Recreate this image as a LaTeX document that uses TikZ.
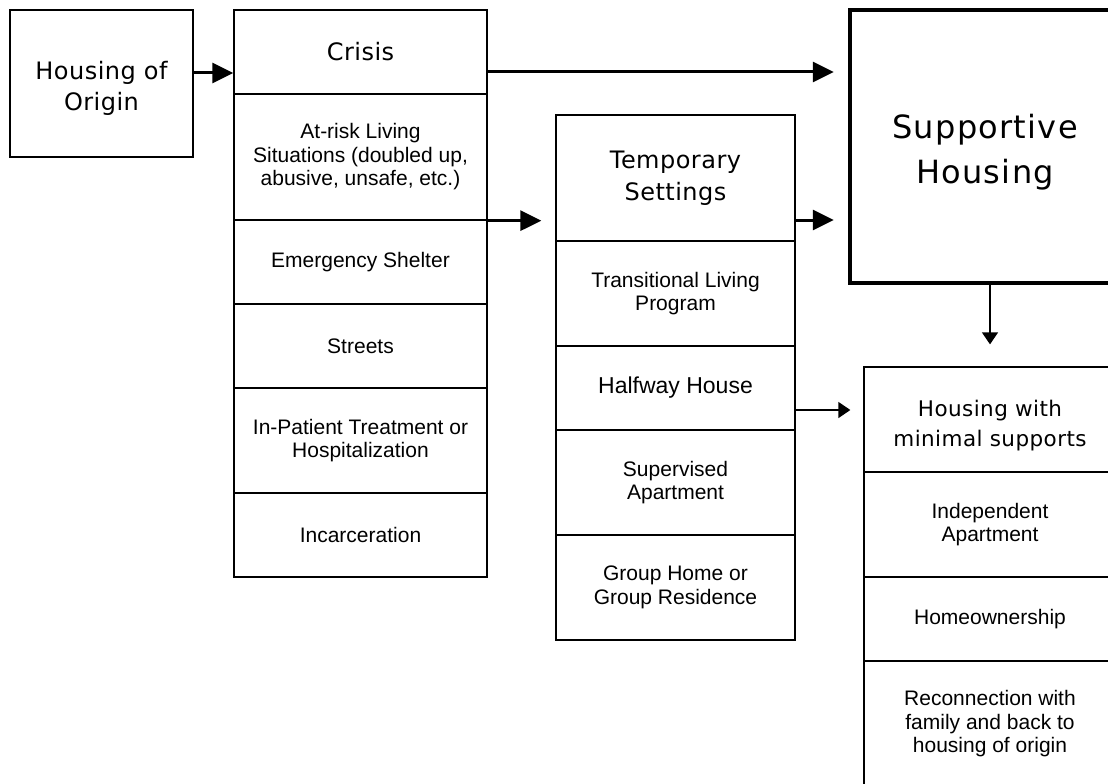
\documentclass[tikz,border=0pt]{standalone}
\usepackage{fontspec}
\setmainfont{Liberation Sans}
\newfontfamily\headfont[LetterSpace=2]{DejaVu Sans}
\newfontfamily\bigheadfont[LetterSpace=4]{DejaVu Sans}
\usetikzlibrary{arrows.meta}
\newcommand{\twolines}[3]{\raisebox{#1}[0pt][0pt]{\begin{tabular}[t]{@{}c@{}}#2\\#3\end{tabular}}}
\begin{document}
\begin{tikzpicture}[x=1pt,y=-1pt,
  cell/.style={draw, line width=1.3pt, inner sep=0pt, align=center, font=\fontsize{21}{23.5}\selectfont},
  head/.style={font=\headfont\fontsize{24}{31.5}\selectfont},
  bigarrow/.style={line width=3pt, -{Triangle[length=21pt,width=20pt]}},
  smallarrow/.style={line width=1.5pt, -{Triangle[length=12pt,width=16pt]}},
  crisiscol/.style={cell, minimum width=253pt},
  tempcol/.style={cell, minimum width=239pt},
  rightcol/.style={cell, minimum width=252pt}]
\useasboundingbox (0,0) rectangle (1108,784);
\clip (0,0) rectangle (1108,784);
\fill[white] (0,0) rectangle (1108,784);

% Housing of origin
\node[cell, head, minimum width=183pt, minimum height=147pt] (home) at (101.5,83.5) {\twolines{4.5pt}{Housing of}{Origin}};

% Crisis column
\node[crisiscol, head, minimum height=84pt] (crisis) at (360.5,52) {Crisis};
\node[crisiscol, minimum height=126pt] (atrisk) at (360.5,157) {At-risk Living\\Situations (doubled up,\\abusive, unsafe, etc.)};
\node[crisiscol, minimum height=84pt] (shelter) at (360.5,262) {Emergency Shelter};
\node[crisiscol, minimum height=84pt] (streets) at (360.5,346) {Streets};
\node[crisiscol, minimum height=105pt] (inpatient) at (360.5,440.5) {In-Patient Treatment or\\Hospitalization};
\node[crisiscol, minimum height=84pt] (incarc) at (360.5,535) {Incarceration};

% Temporary column
\node[tempcol, head, minimum height=126pt] (temp) at (675.5,178) {Temporary\\Settings};
\node[tempcol, minimum height=105pt] (trans) at (675.5,293.5) {Transitional Living\\Program};
\node[tempcol, minimum height=84pt, font=\fontsize{23}{26}\selectfont] (halfway) at (675.5,388) {Halfway House};
\node[tempcol, minimum height=105pt] (superv) at (675.5,482.5) {Supervised\\Apartment};
\node[tempcol, minimum height=105pt] (group) at (675.5,587.5) {Group Home or\\Group Residence};

% Supportive housing
\node[draw, line width=4.5pt, inner sep=0pt, minimum width=270pt, minimum height=273pt,
      font=\bigheadfont\fontsize{32}{45}\selectfont] (supp) at (985,146.5)
      {\twolines{8.5pt}{Supportive}{Housing}};

% Right column
\node[rightcol, minimum height=105pt, font=\headfont\fontsize{21.5}{30}\selectfont] (minimal) at (990,419.5) {\twolines{3.5pt}{Housing with}{minimal supports}};
\node[rightcol, minimum height=105pt] (indep) at (990,524.5) {Independent\\Apartment};
\node[rightcol, minimum height=84pt] (homeown) at (990,619) {Homeownership};
\node[rightcol, minimum height=126pt] (reconn) at (990,724) {Reconnection with\\family and back to\\housing of origin};

% Connectors
\draw[bigarrow] ([yshift=10.5pt]home.east) -- ([yshift=10.5pt]home.east -| crisis.west);
\draw[bigarrow, shorten >=14pt] ([yshift=-20pt]crisis.east) -- ([yshift=-20pt]crisis.east -| supp.west);
\draw[bigarrow, shorten >=14pt] (atrisk.south east) -- (atrisk.south east -| temp.west);
\draw[bigarrow, shorten >=14pt] ([yshift=-42pt]temp.east) -- ([yshift=-42pt]temp.east -| supp.west);
\draw[smallarrow, shorten >=13pt] ([yshift=-22pt]halfway.east) -- ([yshift=-22pt]halfway.east -| minimal.west);
\draw[smallarrow, shorten >=22pt] (supp.south -| minimal.north) -- (minimal.north);
\end{tikzpicture}
\end{document}
